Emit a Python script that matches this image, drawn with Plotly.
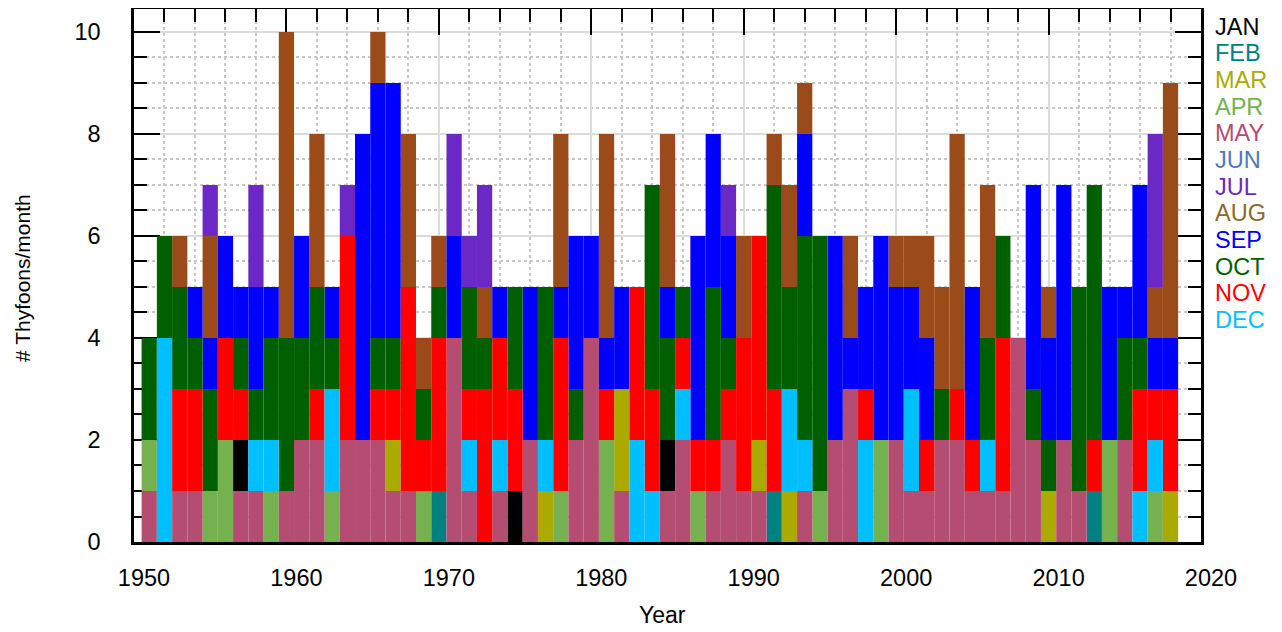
import plotly.graph_objects as go

months = ["JAN", "FEB", "MAR", "APR", "MAY", "JUN",
          "JUL", "AUG", "SEP", "OCT", "NOV", "DEC"]

bar_colors = ["#000000", "#008080", "#aaaa00", "#75b14f", "#b54c72", "#4b7ac0",
              "#6b28c4", "#9b4a1a", "#0000ff", "#005f00", "#ff0000", "#00bfff"]

label_colors = ["#000000", "#008080", "#aaaa00", "#75b14f", "#b54c72", "#4b7ac0",
                "#6b28c4", "#8b6a2a", "#0000ff", "#005f00", "#ff0000", "#00bfff"]

years = list(range(1951, 2019))

# typhoon counts per month for each year, listed bottom -> top as drawn
stacks = [
    "MAY:1 APR:1 OCT:2",            # 1951
    "DEC:4 OCT:2",                  # 1952
    "MAY:1 NOV:2 OCT:2 AUG:1",      # 1953
    "MAY:1 NOV:2 OCT:1 SEP:1",      # 1954
    "APR:1 OCT:2 SEP:1 AUG:2 JUL:1",# 1955
    "APR:2 NOV:2 SEP:2",            # 1956
    "MAY:1 JAN:1 NOV:1 OCT:1 SEP:1",# 1957
    "MAY:1 DEC:1 OCT:1 SEP:2 JUL:2",# 1958
    "APR:1 DEC:1 OCT:2 SEP:1",      # 1959
    "MAY:1 OCT:3 AUG:6",            # 1960
    "MAY:2 OCT:2 SEP:2",            # 1961
    "MAY:2 NOV:1 OCT:2 AUG:3",      # 1962
    "APR:1 DEC:2 OCT:1 SEP:1",      # 1963
    "MAY:2 NOV:4 JUL:1",            # 1964
    "MAY:2 SEP:6",                  # 1965
    "MAY:2 NOV:1 OCT:1 SEP:5 AUG:1",# 1966
    "MAY:1 MAR:1 NOV:1 OCT:1 SEP:5",# 1967
    "MAY:1 NOV:4 AUG:3",            # 1968
    "APR:1 NOV:1 OCT:1 AUG:1",      # 1969
    "FEB:1 NOV:3 OCT:1 AUG:1",      # 1970
    "MAY:4 SEP:2 JUL:2",            # 1971
    "MAY:1 DEC:1 NOV:1 OCT:2 JUL:1",# 1972
    "NOV:3 OCT:1 AUG:1 JUL:2",      # 1973
    "MAY:1 DEC:1 NOV:2 SEP:1",      # 1974
    "JAN:1 NOV:2 OCT:2",            # 1975
    "MAY:2 SEP:3",                  # 1976
    "MAR:1 DEC:1 OCT:3",            # 1977
    "APR:1 NOV:3 SEP:1 AUG:3",      # 1978
    "MAY:2 OCT:1 SEP:3",            # 1979
    "MAY:4 SEP:2",                  # 1980
    "APR:2 NOV:1 SEP:1 AUG:4",      # 1981
    "MAY:1 MAR:2 SEP:2",            # 1982
    "DEC:2 NOV:3",                  # 1983
    "DEC:1 NOV:2 OCT:4",            # 1984
    "MAY:1 JAN:1 OCT:2 SEP:1 AUG:3",# 1985
    "MAY:2 DEC:1 NOV:1 OCT:1",      # 1986
    "APR:1 NOV:1 SEP:4",            # 1987
    "MAY:1 NOV:1 OCT:3 SEP:3",      # 1988
    "MAY:2 NOV:1 OCT:1 SEP:2 JUL:1",# 1989
    "MAY:1 NOV:3 AUG:2",            # 1990
    "MAY:1 MAR:1 NOV:4",            # 1991
    "FEB:1 NOV:2 OCT:4 AUG:1",      # 1992
    "MAR:1 DEC:2 OCT:2 AUG:2",      # 1993
    "MAY:1 DEC:1 OCT:4 SEP:2 AUG:1",# 1994
    "APR:1 OCT:5",                  # 1995
    "MAY:2 SEP:4",                  # 1996
    "MAY:3 SEP:1 AUG:2",            # 1997
    "DEC:2 NOV:1 SEP:2",            # 1998
    "APR:2 SEP:4",                  # 1999
    "MAY:2 SEP:3 AUG:1",            # 2000
    "MAY:1 DEC:2 SEP:2 AUG:1",      # 2001
    "MAY:1 NOV:1 SEP:2 AUG:2",      # 2002
    "MAY:2 OCT:1 AUG:2",            # 2003
    "MAY:2 NOV:1 AUG:5",            # 2004
    "MAY:1 NOV:1 SEP:3",            # 2005
    "MAY:1 DEC:1 OCT:2 AUG:3",      # 2006
    "MAY:1 NOV:3 OCT:2",            # 2007
    "MAY:4",                        # 2008
    "MAY:2 OCT:1 SEP:4",            # 2009
    "MAR:1 OCT:1 SEP:2 AUG:1",      # 2010
    "MAY:2 SEP:5",                  # 2011
    "MAY:1 OCT:4",                  # 2012
    "FEB:1 NOV:1 OCT:5",            # 2013
    "APR:2 SEP:3",                  # 2014
    "MAY:2 OCT:2 SEP:1",            # 2015
    "DEC:1 NOV:2 OCT:1 SEP:3",      # 2016
    "APR:1 DEC:1 NOV:1 SEP:1 AUG:1 JUL:3",  # 2017
    "MAR:1 NOV:2 SEP:1 AUG:5",      # 2018
]

x_ticks = [1950, 1960, 1970, 1980, 1990, 2000, 2010, 2020]
y_ticks = [0, 2, 4, 6, 8, 10]

# ---- build segments ----
seg = {m: {"x": [], "y": [], "base": []} for m in months}
for yr, s in zip(years, stacks):
    cum = 0
    for item in s.split():
        m, c = item.split(":")
        c = int(c)
        seg[m]["x"].append(yr)
        seg[m]["y"].append(c)
        seg[m]["base"].append(cum)
        cum += c

fig = go.Figure()
for i, m in enumerate(months):
    if not seg[m]["x"]:
        continue
    fig.add_trace(go.Bar(
        x=seg[m]["x"], y=seg[m]["y"], base=seg[m]["base"],
        width=1.0, name=m,
        marker=dict(color=bar_colors[i], line=dict(width=0)),
        hovertemplate=m + " %{x}: %{y}<extra></extra>",
    ))

FONT = "Liberation Sans, Arial, sans-serif"

# page has an 8px body margin: plot area spans page x 134..1201, y 9..542
W, H = 1274, 624
ML, MR, MT, MB = 126, 81, 1, 90
PX0, PY0 = 8 + ML, 8 + MT
PW, PH = W - ML - MR, H - MT - MB


def px_x(px):
    return (px - PX0) / PW


def px_y(py):
    return (PY0 + PH - py) / PH


fig.update_layout(
    width=W, height=H,
    margin=dict(l=ML, r=MR, t=MT, b=MB, autoexpand=False),
    plot_bgcolor="white", paper_bgcolor="white",
    barmode="overlay", showlegend=False,
    font=dict(family=FONT, size=23.5, color="black"),
)

fig.update_xaxes(
    range=[1950, 2020], tickvals=x_ticks,
    ticks="inside", ticklen=26, tickwidth=2, tickcolor="black",
    showline=True, linewidth=2.5, linecolor="black", mirror="ticks",
    showgrid=True, gridcolor="#dcdcdc", gridwidth=2, zeroline=False,
    minor=dict(dtick=2, tick0=1950, ticks="inside", ticklen=13, tickwidth=2,
               tickcolor="black", showgrid=True, gridcolor="#c8c8c8",
               gridwidth=2, griddash="dot"),
    layer="below traces", automargin=False,
    ticklabelshift=10, ticklabelstandoff=13,
)

fig.update_yaxes(
    range=[0, 10.45], tickvals=y_ticks,
    ticks="inside", ticklen=26, tickwidth=2, tickcolor="black",
    showline=True, linewidth=2.5, linecolor="black", mirror="ticks",
    showgrid=True, gridcolor="#dcdcdc", gridwidth=2, zeroline=False,
    minor=dict(dtick=0.5, tick0=0, ticks="inside", ticklen=13, tickwidth=2,
               tickcolor="black", showgrid=True, gridcolor="#c8c8c8",
               gridwidth=2, griddash="dot"),
    layer="below traces", automargin=False,
    ticklabelstandoff=26,
)

# axis titles
fig.add_annotation(xref="paper", yref="paper", x=px_x(662), y=px_y(615),
                   xanchor="center", yanchor="middle", showarrow=False,
                   text="Year", font=dict(family=FONT, size=23, color="black"))
fig.add_annotation(xref="paper", yref="paper", x=px_x(22), y=px_y(278),
                   xanchor="center", yanchor="middle", showarrow=False,
                   textangle=-90, text="# Thyfoons/month",
                   font=dict(family=FONT, size=21, color="black"))

# month labels on the right (text-only key)
for i, m in enumerate(months):
    ypx = 26.7 + i * 26.66
    fig.add_annotation(
        xref="paper", yref="paper",
        x=px_x(1213), y=px_y(ypx),
        xanchor="left", yanchor="middle", showarrow=False,
        text=m, font=dict(family=FONT, size=23.5, color=label_colors[i]),
    )

fig.write_html("out.html")
